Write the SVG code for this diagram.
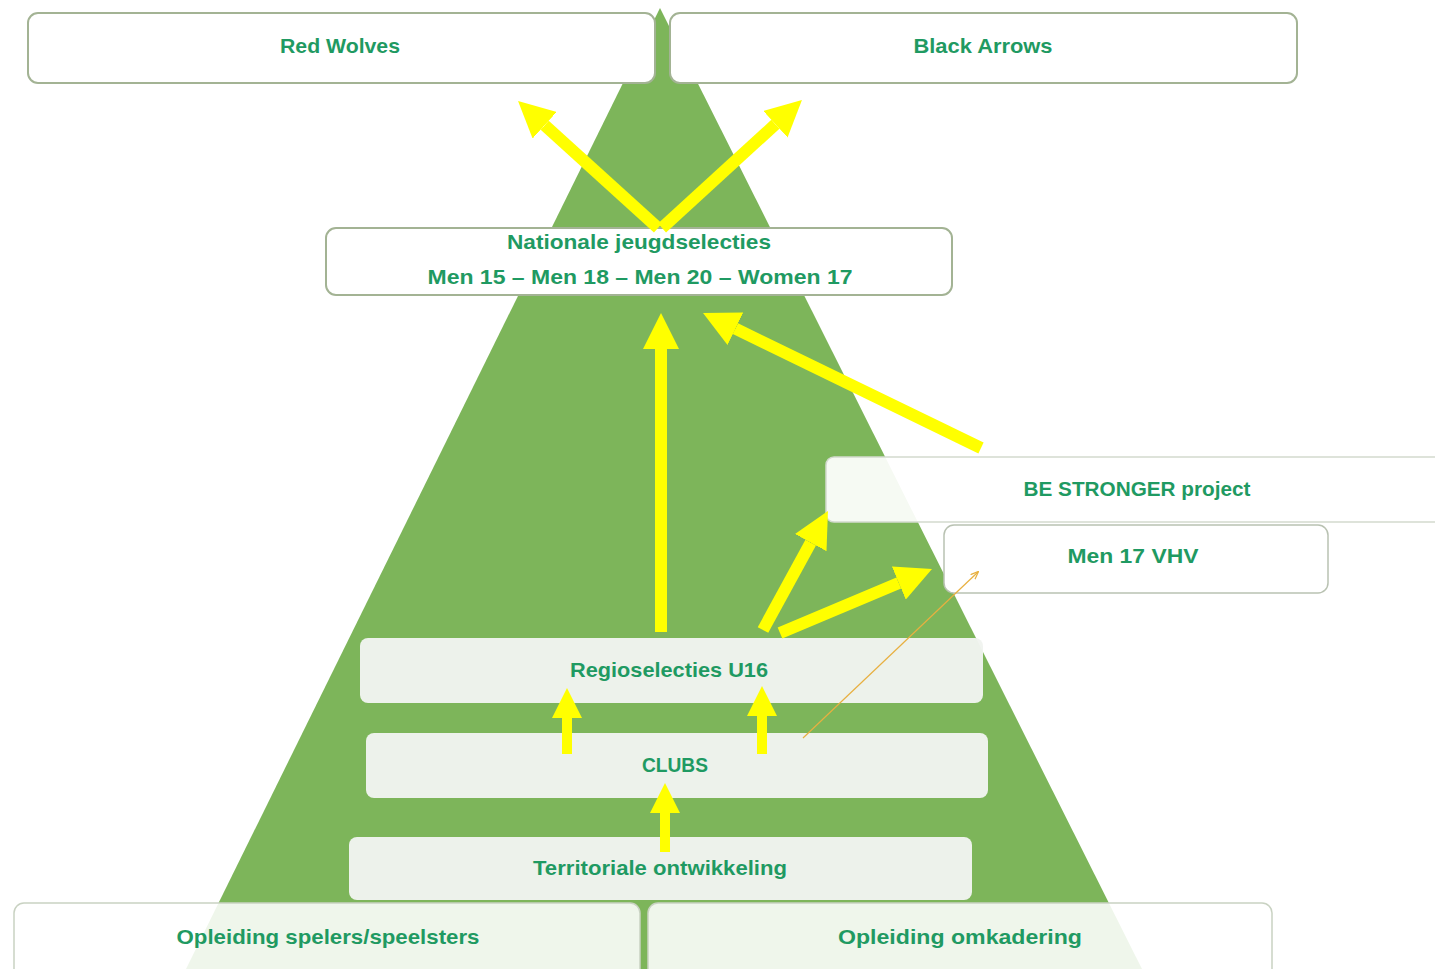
<svg xmlns="http://www.w3.org/2000/svg" width="1435" height="969" viewBox="0 0 1435 969">
<style>
.t{font-family:"Liberation Sans",Arial,sans-serif;font-weight:bold;font-size:21px;fill:#1f9a62;text-anchor:middle}
.outl{fill:#ffffff;stroke:#a3b394;stroke-width:2}
.soft{fill:#f1f4ef;fill-opacity:0.97;stroke:none}
.bot{fill:#ffffff;fill-opacity:0.88;stroke:#c9d2c2;stroke-width:1.5}
.ya{stroke:#ffff00;fill:none;marker-end:url(#ah)}
</style>
<defs>
<marker id="ah" viewBox="0 0 10 10" refX="0" refY="5" markerWidth="3" markerHeight="3" markerUnits="strokeWidth" orient="auto">
<path d="M0,0 L10,5 L0,10 z" fill="#ffff00"/>
</marker>
<marker id="oh" viewBox="0 0 10 10" refX="9" refY="5" markerWidth="8" markerHeight="8" markerUnits="userSpaceOnUse" orient="auto">
<path d="M0,1 L10,5 L0,9" fill="none" stroke="#e8b040" stroke-width="1.5"/>
</marker>
</defs>
<rect width="1435" height="969" fill="#ffffff"/>
<polygon id="pyramid" points="660,8 1142,969 186,969" fill="#7db55a"/>

<g id="red-wolves"><rect class="outl" x="28" y="13" width="627" height="70" rx="10"/><text class="t" x="340" y="53" textLength="120" lengthAdjust="spacingAndGlyphs">Red Wolves</text></g>
<g id="black-arrows"><rect class="outl" x="670" y="13" width="627" height="70" rx="10"/><text class="t" x="983" y="53" textLength="139" lengthAdjust="spacingAndGlyphs">Black Arrows</text></g>
<g id="nationale"><rect class="outl" x="326" y="228" width="626" height="67" rx="10"/><text class="t" x="639" y="249" textLength="264" lengthAdjust="spacingAndGlyphs">Nationale  jeugdselecties</text><text class="t" x="640" y="284" textLength="425" lengthAdjust="spacingAndGlyphs">Men 15 – Men 18 – Men 20 – Women 17</text></g>
<g id="be-stronger"><rect x="826" y="457" width="620" height="65" rx="8" fill="#ffffff" fill-opacity="0.93" stroke="#d3dace" stroke-width="1.5"/><text class="t" x="1137" y="496" textLength="227" lengthAdjust="spacingAndGlyphs">BE STRONGER project</text></g>
<g id="men17"><rect x="944" y="525" width="384" height="68" rx="10" fill="#ffffff" stroke="#b9c2b2" stroke-width="1.5"/><text class="t" x="1133" y="563" textLength="131" lengthAdjust="spacingAndGlyphs">Men 17 VHV</text></g>
<g id="regio"><rect class="soft" x="360" y="638" width="623" height="65" rx="8"/><text class="t" x="669" y="677" textLength="198" lengthAdjust="spacingAndGlyphs">Regioselecties U16</text></g>
<g id="clubs"><rect class="soft" x="366" y="733" width="622" height="65" rx="8"/><text class="t" x="675" y="772" textLength="66" lengthAdjust="spacingAndGlyphs">CLUBS</text></g>
<g id="territoriale"><rect class="soft" x="349" y="837" width="623" height="63" rx="8"/><text class="t" x="660" y="875" textLength="254" lengthAdjust="spacingAndGlyphs">Territoriale ontwikkeling</text></g>
<g id="opl-spelers"><rect class="bot" x="14" y="903" width="626" height="80" rx="10"/><text class="t" x="328" y="944" textLength="303" lengthAdjust="spacingAndGlyphs">Opleiding spelers/speelsters</text></g>
<g id="opl-omkadering"><rect class="bot" x="648" y="903" width="624" height="80" rx="10"/><text class="t" x="960" y="944" textLength="244" lengthAdjust="spacingAndGlyphs">Opleiding omkadering</text></g>

<g id="connectors">
<line class="ya" x1="658" y1="228" x2="544.7" y2="125.2" stroke-width="12"/>
<line class="ya" x1="662" y1="228" x2="775.4" y2="124.3" stroke-width="12"/>
<line class="ya" x1="661" y1="632" x2="661" y2="349" stroke-width="12"/>
<line class="ya" x1="981" y1="448" x2="735.4" y2="328.7" stroke-width="12"/>
<line class="ya" x1="763" y1="630" x2="810.7" y2="542.6" stroke-width="12"/>
<line class="ya" x1="780" y1="633" x2="898.8" y2="583" stroke-width="12"/>
<line class="ya" x1="567" y1="754" x2="567" y2="718" stroke-width="10"/>
<line class="ya" x1="762" y1="754" x2="762" y2="716" stroke-width="10"/>
<line class="ya" x1="665" y1="852" x2="665" y2="813" stroke-width="10"/>
<line x1="803" y1="738" x2="978" y2="572" stroke="#e8b040" stroke-width="1.2" marker-end="url(#oh)"/>
</g>
</svg>
